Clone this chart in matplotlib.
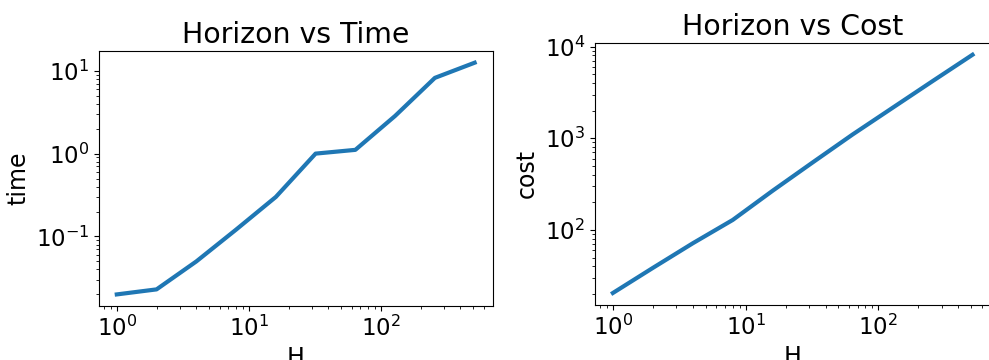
import matplotlib
matplotlib.use('Agg')
import matplotlib.pyplot as plt

horizon = [1, 2, 4, 8, 16, 32, 64, 128, 256, 512]
time_s = [0.020, 0.023, 0.050, 0.121, 0.30, 1.0, 1.11, 2.85, 8.2, 12.5]
cost = [20.5, 38.5, 71.5, 128.5, 268, 545, 1100, 2150, 4200, 8150]

plt.rcParams['font.size'] = 17
plt.rcParams['xtick.labelsize'] = 16.5
plt.rcParams['ytick.labelsize'] = 16.5

fig = plt.figure(figsize=(9.89, 3.6), dpi=100)
ax1 = fig.add_axes([0.100, 0.150, 0.398, 0.708])
ax2 = fig.add_axes([0.6015, 0.153, 0.400, 0.728])

ax1.plot(horizon, time_s, color='tab:blue', linewidth=3)
ax1.set_xscale('log')
ax1.set_yscale('log')
ax1.set_title('Horizon vs Time')
ax1.set_xlabel('H')
ax1.set_ylabel('time')

ax2.plot(horizon, cost, color='tab:blue', linewidth=3)
ax2.set_xscale('log')
ax2.set_yscale('log')
ax2.set_title('Horizon vs Cost')
ax2.set_xlabel('H')
ax2.set_ylabel('cost')

fig.savefig('out.png', dpi=100)
